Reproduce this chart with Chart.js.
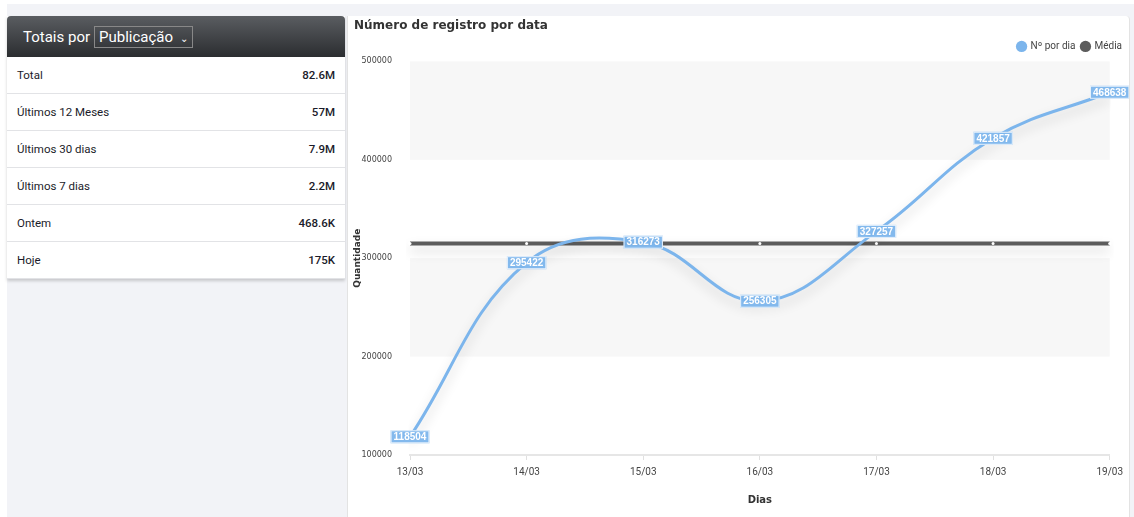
<!DOCTYPE html>
<html lang="pt-BR">
<head>
  <meta charset="UTF-8">
  <title>Número de registro por data</title>
  <script src="https://cdn.jsdelivr.net/npm/chart.js"></script>
  <style>
    html, body {
      margin: 0;
      padding: 0;
      background: #fff;
      font-family: Roboto, Arial, sans-serif;
    }
    .pagina {
      position: absolute;
      left: 7px;
      top: 4px;
      right: 0;
      bottom: 0;
      background: #f2f3f7;
    }
    .totais {
      position: absolute;
      left: 7px;
      top: 16px;
      width: 338px;
      background: #fff;
      box-shadow: 0 2px 3px rgba(0,0,0,0.18);
    }
    .totais header {
      height: 41px;
      border-radius: 4px 4px 0 0;
      background: linear-gradient(#5a5d61, #2b2d30);
      color: #fff;
      font-size: 15px;
      display: flex;
      align-items: center;
      padding-left: 16px;
    }
    .totais header .sel {
      margin-left: 4px;
      border: 1px solid #888;
      padding: 1px 4px;
      font-size: 15px;
    }
    .totais header .sel span {
      font-size: 10px;
      margin-left: 3px;
    }
    .linha {
      height: 36px;
      border-bottom: 1px solid #e2e3e6;
      display: flex;
      justify-content: space-between;
      align-items: center;
      padding: 0 10px 0 10px;
      font-size: 11.5px;
      color: #1b1b2a;
    }
    .linha b { font-weight: 500; }
    .card {
      position: absolute;
      left: 347px;
      top: 16px;
      width: 783px;
      height: 501px;
      background: #fff;
      border-left: 1px solid #e3e3e3;
      border-right: 1px solid #e3e3e3;
      border-radius: 0 4px 0 0;
      box-sizing: border-box;
    }
  </style>
</head>
<body>
  <div class="pagina"></div>
  <div class="totais">
    <header>Totais por <div class="sel">Publicação <span>⌄</span></div></header>
    <div class="linha"><span>Total</span><b>82.6M</b></div>
    <div class="linha"><span>Últimos 12 Meses</span><b>57M</b></div>
    <div class="linha"><span>Últimos 30 dias</span><b>7.9M</b></div>
    <div class="linha"><span>Últimos 7 dias</span><b>2.2M</b></div>
    <div class="linha"><span>Ontem</span><b>468.6K</b></div>
    <div class="linha"><span>Hoje</span><b>175K</b></div>
  </div>
  <div class="card">
    <canvas id="grafico" width="781" height="501"></canvas>
  </div>
  <script>
    // dados do gráfico
    const dias = ['13/03', '14/03', '15/03', '16/03', '17/03', '18/03', '19/03'];
    const porDia = [118504, 295422, 316273, 256305, 327257, 421857, 468638];
    const media = 314894;
    const yTicks = [100000, 200000, 300000, 400000, 500000];

    const azul = '#7cb5ec';
    const cinza = '#5c5c5c';

    // faixas alternadas entre as marcas do eixo y
    const faixas = {
      id: 'faixas',
      beforeDatasetsDraw(chart) {
        const { ctx, chartArea, scales: { y } } = chart;
        ctx.save();
        for (let i = 0; i < yTicks.length - 1; i++) {
          if ((yTicks.length - 2 - i) % 2 !== 0) continue;
          const y1 = y.getPixelForValue(yTicks[i + 1]);
          const y0 = y.getPixelForValue(yTicks[i]);
          ctx.fillStyle = '#f7f7f7';
          ctx.fillRect(chartArea.left, y1, chartArea.right - chartArea.left, y0 - y1);
        }
        ctx.restore();
      }
    };

    // sombra nas linhas
    const sombra = {
      id: 'sombra',
      beforeDatasetDraw(chart) {
        const ctx = chart.ctx;
        ctx.save();
        ctx.shadowColor = 'rgba(0,0,0,0.18)';
        ctx.shadowBlur = 12;
        ctx.shadowOffsetY = 6;
      },
      afterDatasetDraw(chart) {
        chart.ctx.restore();
      }
    };

    // título um pouco recuado, legenda encostada na borda direita
    const ajusteCaixas = {
      id: 'ajusteCaixas',
      afterLayout(chart) {
        chart.titleBlock.left += 6;
        chart.titleBlock.right += 6;
        chart.legend.left += 16;
        chart.legend.right += 16;
      }
    };

    // rótulos com o valor de cada ponto
    const rotulos = {
      id: 'rotulos',
      afterDatasetsDraw(chart) {
        const { ctx } = chart;
        const meta = chart.getDatasetMeta(0);
        ctx.save();
        ctx.font = 'bold 10px "Liberation Sans", Arial, sans-serif';
        ctx.textAlign = 'center';
        ctx.textBaseline = 'middle';
        meta.data.forEach((pt, i) => {
          const txt = String(porDia[i]);
          const w = ctx.measureText(txt).width + 6;
          const h = 13;
          ctx.fillStyle = 'rgba(124,181,236,0.95)';
          ctx.fillRect(pt.x - w / 2, pt.y - h / 2, w, h);
          ctx.strokeStyle = 'rgba(255,255,255,0.8)';
          ctx.lineWidth = 1;
          ctx.strokeRect(pt.x - w / 2 + 0.5, pt.y - h / 2 + 0.5, w - 1, h - 1);
          ctx.fillStyle = '#fff';
          ctx.fillText(txt, pt.x, pt.y + 0.5);
        });
        ctx.restore();
      }
    };

    new Chart(document.getElementById('grafico'), {
      type: 'line',
      data: {
        labels: dias,
        datasets: [{
          label: 'Nº por dia',
          data: porDia,
          borderColor: azul,
          backgroundColor: azul,
          borderWidth: 3,
          tension: 0.4,
          pointRadius: 0,
          order: 1
        }, {
          label: 'Média',
          data: dias.map(() => media),
          borderColor: cinza,
          backgroundColor: cinza,
          borderWidth: 4,
          pointRadius: 1.5,
          pointBackgroundColor: '#fff',
          pointBorderWidth: 0,
          order: 2
        }]
      },
      options: {
        responsive: false,
        animation: false,
        layout: { padding: { left: 0, right: 17, top: 1, bottom: 11 } },
        plugins: {
          title: {
            display: true,
            text: 'Número de registro por data',
            align: 'start',
            color: '#333',
            font: { family: 'DejaVu Sans', size: 12, weight: 'bold' },
            padding: { top: 2, bottom: 2 }
          },
          legend: {
            align: 'end',
            labels: {
              usePointStyle: true,
              pointStyle: 'circle',
              boxWidth: 8,
              boxHeight: 8,
              padding: 6,
              color: '#444',
              font: { family: 'Roboto', size: 10 },
              generateLabels(chart) {
                return chart.data.datasets.map((ds, i) => ({
                  text: ds.label,
                  fillStyle: ds.borderColor,
                  strokeStyle: ds.borderColor,
                  lineWidth: 0,
                  pointStyle: 'circle',
                  fontColor: '#444',
                  datasetIndex: i
                }));
              }
            }
          },
          tooltip: { enabled: false }
        },
        scales: {
          x: {
            offset: false,
            grid: { display: true, drawOnChartArea: false, color: '#e0e0e0', tickLength: 5 },
            border: { color: '#e6e6e6', width: 2 },
            ticks: { color: '#444', font: { family: 'Roboto', size: 10 }, padding: 6, maxRotation: 0 },
            title: { display: true, text: 'Dias', color: '#333', font: { family: 'DejaVu Sans', size: 10, weight: 'bold' }, padding: { top: 10, bottom: 0 } }
          },
          y: {
            min: 100000,
            max: 500000,
            afterBuildTicks(axis) { axis.ticks = yTicks.map(v => ({ value: v })); },
            afterFit(axis) { axis.width = 62; },
            grid: { display: false },
            border: { display: false },
            ticks: { color: '#444', font: { family: 'DejaVu Sans', size: 8 }, padding: 10, callback: v => String(v) },
            title: { display: true, text: 'Quantidade', color: '#333', font: { family: 'DejaVu Sans', size: 9, weight: 'bold' }, padding: { bottom: 4 } }
          }
        }
      },
      plugins: [faixas, sombra, rotulos, ajusteCaixas]
    });
  </script>
</body>
</html>
